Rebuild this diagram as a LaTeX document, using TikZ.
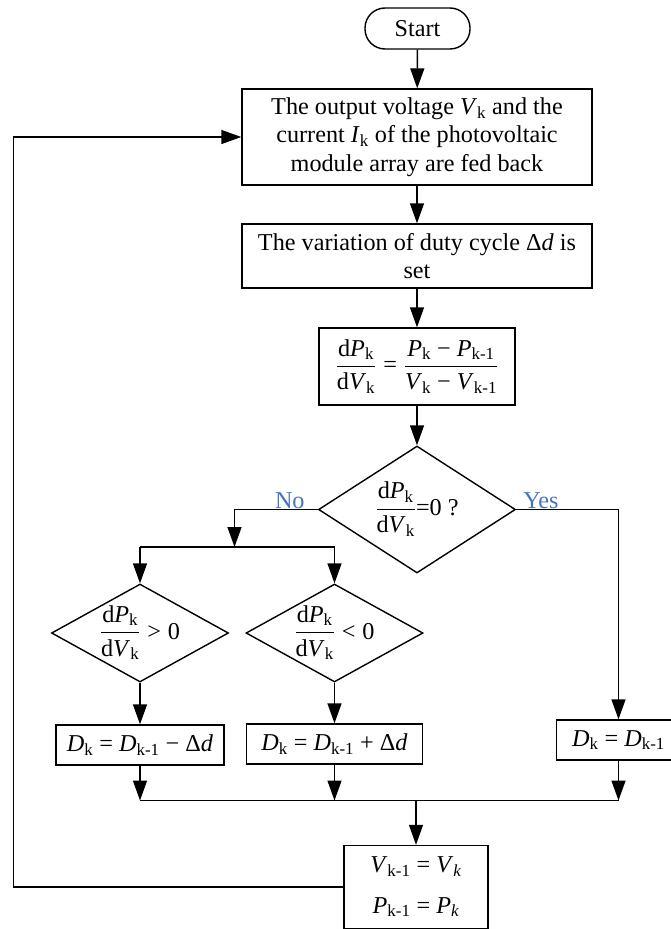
\documentclass[tikz,border=0pt]{standalone}
\usepackage{fontspec}
\setmainfont{Liberation Serif}
\usepackage{amsmath}
\usetikzlibrary{arrows.meta,shapes.geometric}
\definecolor{lblue}{HTML}{4472C4}
\newcommand\sk{\textsubscript{k}}
\newcommand\skm{\textsubscript{k-1}}
\newcommand\iv[1]{\textit{#1}}
\newcommand\zc[1]{\makebox[0pt]{\smash{\raisebox{-6pt}{#1}}}}
\newcommand\dpdv{\dfrac{\text{d\iv{P}\sk}}{\text{d\iv{V}\sk}}}
\begin{document}
\begin{tikzpicture}[x=1pt,y=-1pt,
  every node/.style={font=\fontsize{24.2}{28.3}\selectfont},
  base/.style={draw,line width=1.4pt,inner sep=0pt,align=center},
  box/.style={base,rectangle},
  term/.style={base,rectangle,rounded corners=20pt},
  dia/.style={base,diamond},
  arr/.style={line width=1.4pt,-{Triangle[length=20pt,width=14pt]}},
  ln/.style={line width=1.4pt},
  lab/.style={text=lblue,inner sep=1pt}]
\clip (0,0) rectangle (671,929);
\node[term,minimum width=105pt,minimum height=41pt] (start) at (417.5,28.5) {Start};
\node[box,minimum width=350pt,minimum height=96pt] (b1) at (417,137)
  {The output voltage \iv{V}\sk\ and the\\current \iv{I}\sk\ of the photovoltaic\\module array are fed back};
\node[box,minimum width=350pt,minimum height=64pt] (b2) at (417,256)
  {The variation of duty cycle Δ\iv{d} is\\set};
\node[box,minimum width=196pt,minimum height=77pt] (b3) at (417,366.5)
  {$\dpdv\mathrel{\text{=}}\dfrac{\text{\iv{P}\sk\ − \iv{P}\skm}}{\text{\iv{V}\sk\ − \iv{V}\skm}}$};
\node[dia,minimum width=197pt,minimum height=127pt] (d1) at (417,509.5)
  {\zc{$\dpdv\text{=0 ?}$}};
\node[dia,minimum width=177pt,minimum height=98pt] (d2) at (140,633)
  {\zc{$\dpdv\mathrel{\text{>}}\text{0}$}};
\node[dia,minimum width=177pt,minimum height=98pt] (d3) at (334.5,633)
  {\zc{$\dpdv\mathrel{\text{<}}\text{0}$}};
\node[box,minimum width=168pt,minimum height=40pt] (e1) at (140,745)
  {\iv{D}\sk\ = \iv{D}\skm\ − Δ\iv{d}};
\node[box,minimum width=176pt,minimum height=40pt] (e2) at (334.5,744)
  {\iv{D}\sk\ = \iv{D}\skm\ + Δ\iv{d}};
\node[box,minimum width=124pt,minimum height=40pt] (e3) at (618.5,740)
  {\iv{D}\sk\ = \iv{D}\skm};
\node[box,minimum width=144pt,minimum height=83pt] (f) at (416,887)
  {\iv{V}\skm\ = \iv{V}\textsubscript{\iv{k}}\\[12pt]\iv{P}\skm\ = \iv{P}\textsubscript{\iv{k}}};
\coordinate (ns) at (234.5,547);
\coordinate (m) at (416,800.5);
\coordinate (fb) at (13.5,887);
% connectors
\draw[arr] (start) -- (b1);
\draw[arr] (b1) -- (b2);
\draw[arr] (b2) -- (b3);
\draw[arr] (b3) -- (d1);
\draw[arr] (d1.west) -| (ns);
\draw[ln] (ns -| d2.north) -- (ns -| d3.north);
\draw[arr] (ns -| d2.north) -- (d2.north);
\draw[arr] (ns -| d3.north) -- (d3.north);
\draw[arr] (d1.east) -| (e3.north);
\draw[arr] (d2.south) -- (e1.north);
\draw[arr] (d3.south) -- (e2.north);
\draw[arr] (e1.south) -- (e1.south |- m);
\draw[arr] (e2.south) -- (e2.south |- m);
\draw[arr] (e3.south) -- (e3.south |- m);
\draw[ln] (e1.south |- m) -- (e3.south |- m);
\draw[arr] (m) -- (f.north);
\draw[arr] (f.west) -- (fb) |- (b1.west);
\node[lab,anchor=south east] (no) at ([xshift=-12pt]d1.west) {No};
\node[lab,anchor=south west] (yes) at ([xshift=6pt]d1.east) {Yes};
\end{tikzpicture}
\end{document}
